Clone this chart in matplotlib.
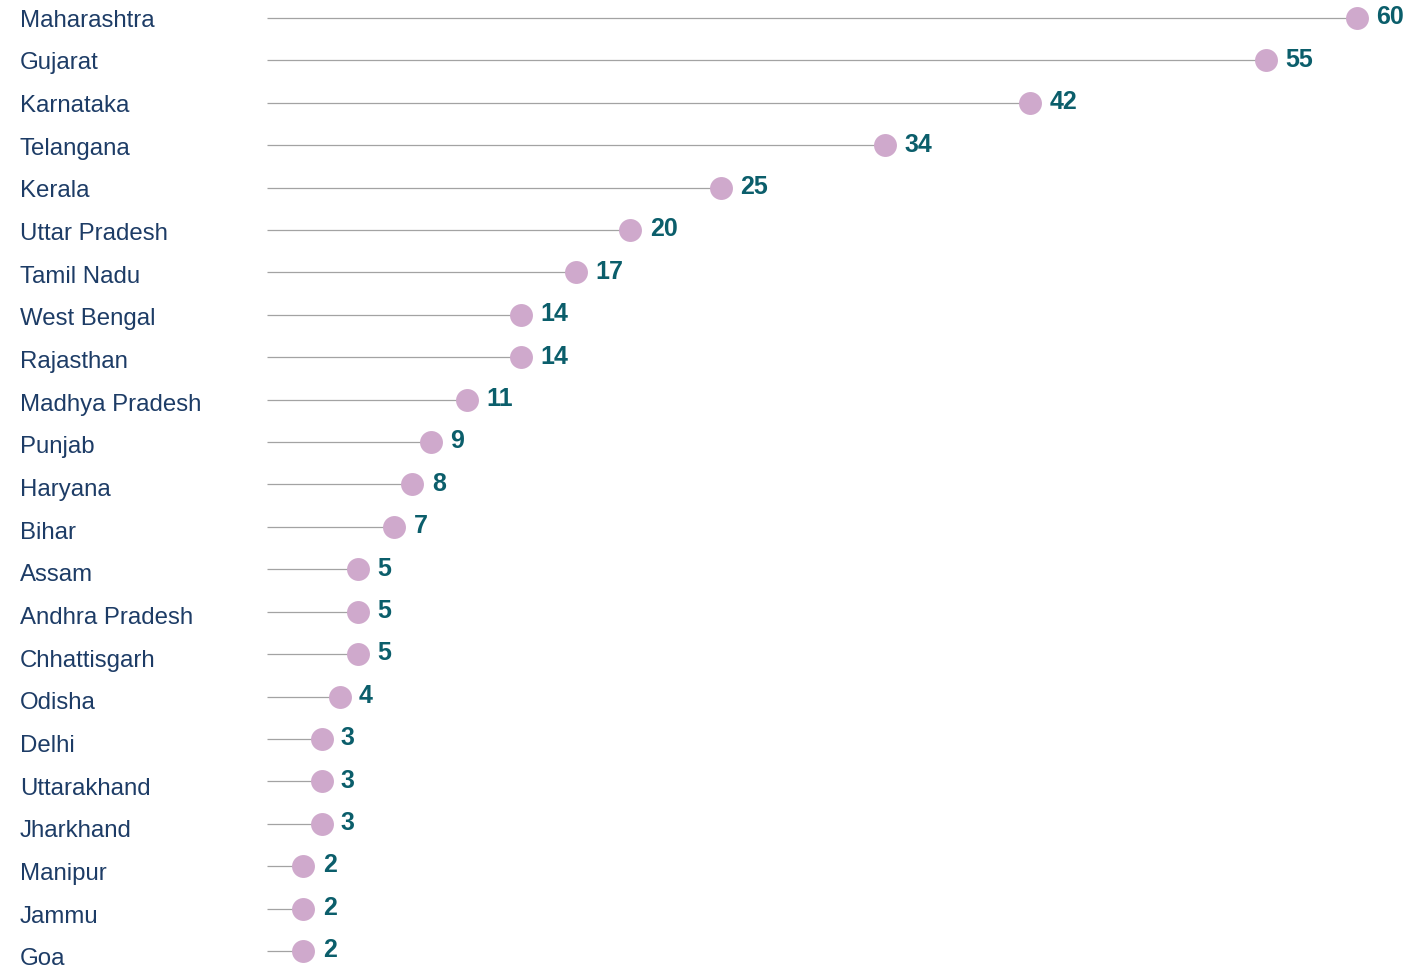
import matplotlib.pyplot as plt

states = ['Maharashtra', 'Gujarat', 'Karnataka', 'Telangana', 'Kerala',
          'Uttar Pradesh', 'Tamil Nadu', 'West Bengal', 'Rajasthan',
          'Madhya Pradesh', 'Punjab', 'Haryana', 'Bihar', 'Assam',
          'Andhra Pradesh', 'Chhattisgarh', 'Odisha', 'Delhi', 'Uttarakhand',
          'Jharkhand', 'Manipur', 'Jammu', 'Goa']
counts = [60, 55, 42, 34, 25, 20, 17, 14, 14, 11, 9, 8, 7, 5, 5, 5, 4, 3, 3, 3, 2, 2, 2]

dot_color = '#cfa9cc'
line_color = '#a3a3a3'
name_color = '#1d3c66'
value_color = '#0b5e6b'

plt.rcParams['font.family'] = ['Liberation Sans', 'DejaVu Sans']

W, H = 1407, 972
fig = plt.figure(figsize=(W / 100, H / 100), dpi=100)
# axes starts where the stems start (x = 0) and runs to the right edge
ax = fig.add_axes([267 / W, 0, 1 - 267 / W, 1])
ax.set_xlim(0, 60 * (W - 267) / 1090)
ax.set_ylim(22.495, -0.424)
ax.axis('off')

rows = list(range(len(states)))
ax.hlines(rows, 0, counts, color=line_color, linewidth=0.9, zorder=1)
ax.plot(counts, rows, 'o', color=dot_color, markersize=16.5, markeredgewidth=0, zorder=2)

for i, (name, v) in enumerate(zip(states, counts)):
    ax.annotate(str(v), (v, i), xytext=(14, 0.5), textcoords='offset points',
                ha='left', va='center', fontsize=18, fontweight='bold',
                color=value_color)
    fig.text(20 / W, 1 - (18 + 42.68 * i + 2.5) / H, name, ha='left', va='center',
             fontsize=17.3, color=name_color)

fig.savefig('out.png', dpi=100)
